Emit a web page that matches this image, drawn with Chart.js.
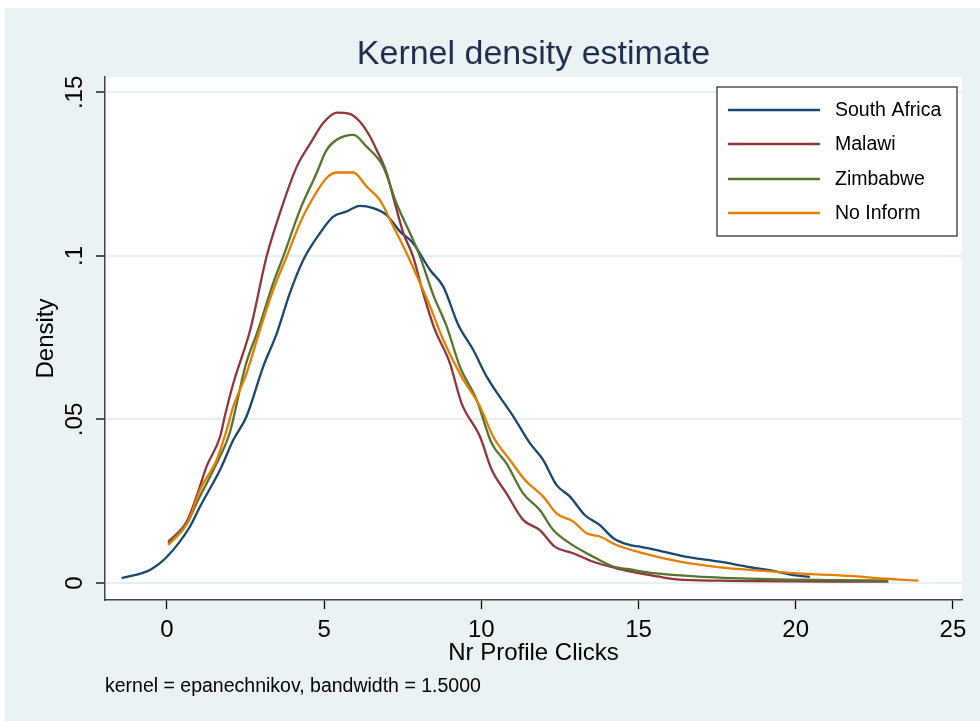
<!DOCTYPE html>
<html>
<head>
<meta charset="utf-8">
<title>Kernel density estimate</title>
<script src="https://cdn.jsdelivr.net/npm/chart.js@4.4.1/dist/chart.umd.min.js"></script>
<style>
  html, body { margin: 0; padding: 0; background: #ffffff; }
  #wrap { width: 980px; height: 721px; }
</style>
</head>
<body>
<div id="wrap"><canvas id="kdeChart" width="980" height="721"></canvas></div>
<script>
"use strict";

const FONT = "'Liberation Sans', Arial, sans-serif";

// series names and colours
const seriesNames = ["South Africa", "Malawi", "Zimbabwe", "No Inform"];
const seriesColors = ["#1a476f", "#90353b", "#55752f", "#e37e00"];

// axis ticks
const xTickValues = [0, 5, 10, 15, 20, 25];
const yTickValues = [0, 0.05, 0.1, 0.15];
const yTickLabels = ["0", ".05", ".1", ".15"];

// density curves
const southAfricaX = [-1.44, -0.54, 0, 0.73, 1.05, 1.69, 2.11, 2.53, 3.06, 3.5, 3.91, 4.34, 4.87, 5.29, 5.72, 6.14, 6.56, 6.99, 7.41, 7.83, 8.37, 8.79, 9.27, 9.74, 10.17, 11.02, 11.55, 11.97, 12.39, 12.82, 13.29, 13.77, 14.2, 14.73, 15.04, 15.78, 16.53, 17.59, 18.44, 19.39, 19.92, 20.45];
const southAfricaY = [0.0015, 0.004, 0.008, 0.0172, 0.0233, 0.0346, 0.0437, 0.0509, 0.0661, 0.0765, 0.0886, 0.0988, 0.107, 0.112, 0.1136, 0.1153, 0.1146, 0.1125, 0.1075, 0.1039, 0.0957, 0.0906, 0.0789, 0.0713, 0.0631, 0.0509, 0.0427, 0.0376, 0.03, 0.0264, 0.0208, 0.0177, 0.0137, 0.0116, 0.0111, 0.0096, 0.008, 0.0065, 0.005, 0.0035, 0.0024, 0.0019];

const malawiX = [0.04, 0.63, 0.94, 1.26, 1.69, 1.84, 2.11, 2.65, 3.17, 3.59, 4.13, 4.6, 4.97, 5.4, 5.82, 6.14, 6.4, 6.67, 6.99, 7.25, 7.52, 7.83, 8.15, 8.5, 9.0, 9.37, 9.96, 10.33, 10.8, 11.33, 11.86, 12.34, 12.92, 13.56, 14.3, 15.0, 15.6, 16.21, 17.59, 22.95];
const malawiY = [0.0126, 0.0188, 0.0264, 0.0356, 0.0447, 0.051, 0.061, 0.0774, 0.0998, 0.113, 0.1273, 0.135, 0.1406, 0.1438, 0.1434, 0.141, 0.1375, 0.1324, 0.1253, 0.1161, 0.107, 0.0998, 0.0886, 0.078, 0.0672, 0.055, 0.0447, 0.0346, 0.0274, 0.0193, 0.0162, 0.0111, 0.0091, 0.0065, 0.0045, 0.003, 0.002, 0.0011, 0.0007, 0.0004];

const zimbabweX = [0.04, 0.65, 1.0, 1.5, 2.0, 2.5, 2.9, 3.38, 3.7, 4.23, 4.76, 5.08, 5.4, 5.93, 6.35, 6.88, 7.3, 7.73, 8.05, 8.47, 8.9, 9.32, 9.85, 10.33, 10.8, 11.33, 11.86, 12.29, 12.82, 13.45, 14.2, 14.7, 15.47, 17.06, 19.18, 21.3, 22.94];
const zimbabweY = [0.012, 0.0185, 0.0255, 0.035, 0.046, 0.0665, 0.0774, 0.0917, 0.0998, 0.114, 0.1253, 0.1324, 0.1355, 0.137, 0.1334, 0.1273, 0.1161, 0.107, 0.0998, 0.0881, 0.0784, 0.0661, 0.056, 0.0427, 0.0366, 0.0274, 0.0223, 0.0162, 0.0121, 0.0086, 0.005, 0.0042, 0.003, 0.0019, 0.0012, 0.0009, 0.0007];

const noInformX = [0.04, 0.68, 1.05, 1.58, 1.9, 2.11, 2.53, 2.96, 3.38, 3.81, 4.23, 4.55, 5.08, 5.4, 5.93, 6.35, 6.77, 7.2, 7.62, 8.05, 8.4, 8.79, 9.37, 9.96, 10.38, 10.91, 11.39, 11.97, 12.39, 12.92, 13.35, 13.77, 14.3, 15.1, 16.32, 17.59, 18.86, 20.35, 21.83, 22.89, 23.9];
const noInformY = [0.0116, 0.0188, 0.0284, 0.0376, 0.0468, 0.0539, 0.0641, 0.0774, 0.0896, 0.0998, 0.11, 0.1161, 0.1238, 0.1255, 0.1255, 0.1212, 0.1171, 0.109, 0.1009, 0.0917, 0.0838, 0.0743, 0.0631, 0.0539, 0.0447, 0.0376, 0.0315, 0.0264, 0.0213, 0.0188, 0.0152, 0.0142, 0.0116, 0.0092, 0.0065, 0.0048, 0.0038, 0.0028, 0.0021, 0.0013, 0.0007];

const seriesX = [southAfricaX, malawiX, zimbabweX, noInformX];
const seriesY = [southAfricaY, malawiY, zimbabweY, noInformY];

function toPoints(xs, ys) {
  return xs.map((x, i) => ({ x: x, y: ys[i] }));
}

const datasets = seriesNames.map((name, i) => ({
  label: name,
  data: toPoints(seriesX[i], seriesY[i]),
  borderColor: seriesColors[i],
  backgroundColor: seriesColors[i],
  borderWidth: 2.3,
  pointRadius: 0,
  cubicInterpolationMode: "monotone",
  fill: false,
  order: seriesNames.length - i,
}));

// light panel behind everything, white plot region
const stataBackground = {
  id: "stataBackground",
  beforeDraw(chart) {
    const { ctx, chartArea } = chart;
    ctx.save();
    ctx.fillStyle = "#ffffff";
    ctx.fillRect(0, 0, chart.width, chart.height);
    ctx.fillStyle = "#eaf2f3";
    ctx.fillRect(5, 8, chart.width - 5, chart.height - 8);
    ctx.fillStyle = "#ffffff";
    ctx.fillRect(chartArea.left, chartArea.top, chartArea.right - chartArea.left, chartArea.bottom - chartArea.top);
    ctx.restore();
  },
};

// boxed legend inside the plot, top right
const boxLegend = {
  id: "boxLegend",
  afterDatasetsDraw(chart) {
    const { ctx, chartArea } = chart;
    const w = 240, h = 149;
    const left = chartArea.right - 5 - w;
    const top = chartArea.top + 10;
    ctx.save();
    ctx.fillStyle = "#ffffff";
    ctx.fillRect(left, top, w, h);
    ctx.strokeStyle = "#333333";
    ctx.lineWidth = 1.3;
    ctx.strokeRect(left, top, w, h);
    ctx.font = "19.5px " + FONT;
    ctx.textBaseline = "middle";
    ctx.fillStyle = "#000000";
    const rowY = [23, 57, 92, 126];
    chart.data.datasets.forEach((ds, i) => {
      const y = top + rowY[i];
      ctx.strokeStyle = ds.borderColor;
      ctx.lineWidth = 2.3;
      ctx.beginPath();
      ctx.moveTo(left + 11, y);
      ctx.lineTo(left + 103, y);
      ctx.stroke();
      ctx.fillText(ds.label, left + 118, y + 1);
    });
    ctx.restore();
  },
};

new Chart(document.getElementById("kdeChart"), {
  type: "line",
  data: { datasets: datasets },
  options: {
    responsive: false,
    animation: false,
    layout: { padding: { left: 10, right: 18, top: 30, bottom: 22.4 } },
    plugins: {
      legend: { display: false },
      tooltip: { enabled: false },
      title: {
        display: true,
        text: "Kernel density estimate",
        fullSize: false,
        color: "#1f2f4f",
        font: { family: FONT, size: 34, weight: "normal" },
        padding: { top: 4, bottom: 2.2 },
      },
      subtitle: {
        display: true,
        text: "kernel = epanechnikov, bandwidth = 1.5000",
        position: "bottom",
        align: "start",
        fullSize: false,
        color: "#000000",
        font: { family: FONT, size: 19.5, weight: "normal" },
        padding: { top: 2.2, bottom: 0 },
      },
    },
    scales: {
      x: {
        type: "linear",
        min: -1.97,
        max: 25.29,
        afterBuildTicks(scale) {
          scale.ticks = xTickValues.map((v) => ({ value: v }));
        },
        afterFit(scale) {
          scale.height = 73;
        },
        ticks: {
          color: "#000000",
          padding: 7,
          font: { family: FONT, size: 24 },
          callback: (v) => String(v),
        },
        grid: { drawOnChartArea: false, tickLength: 9, tickColor: "#000000", tickWidth: 1.3 },
        border: { color: "#444444", width: 1.5 },
        title: {
          display: true,
          text: "Nr Profile Clicks",
          color: "#000000",
          font: { family: FONT, size: 24 },
          padding: { top: 0, bottom: 5 },
        },
      },
      y: {
        type: "linear",
        min: -0.0052,
        max: 0.1547,
        afterBuildTicks(scale) {
          scale.ticks = yTickValues.map((v) => ({ value: v }));
        },
        afterFit(scale) {
          scale.width = 95;
        },
        ticks: {
          color: "#000000",
          padding: 4,
          minRotation: 90,
          maxRotation: 90,
          crossAlign: "center",
          font: { family: FONT, size: 24 },
          callback: (v) => yTickLabels[yTickValues.indexOf(v)],
        },
        grid: { color: "#e6eff1", lineWidth: 2, tickLength: 9, tickColor: "#000000", tickWidth: 1.3 },
        border: { color: "#444444", width: 1.5 },
        title: {
          display: true,
          text: "Density",
          color: "#000000",
          font: { family: FONT, size: 24 },
          padding: { top: 22, bottom: 0 },
        },
      },
    },
  },
  plugins: [stataBackground, boxLegend],
});
</script>
</body>
</html>
